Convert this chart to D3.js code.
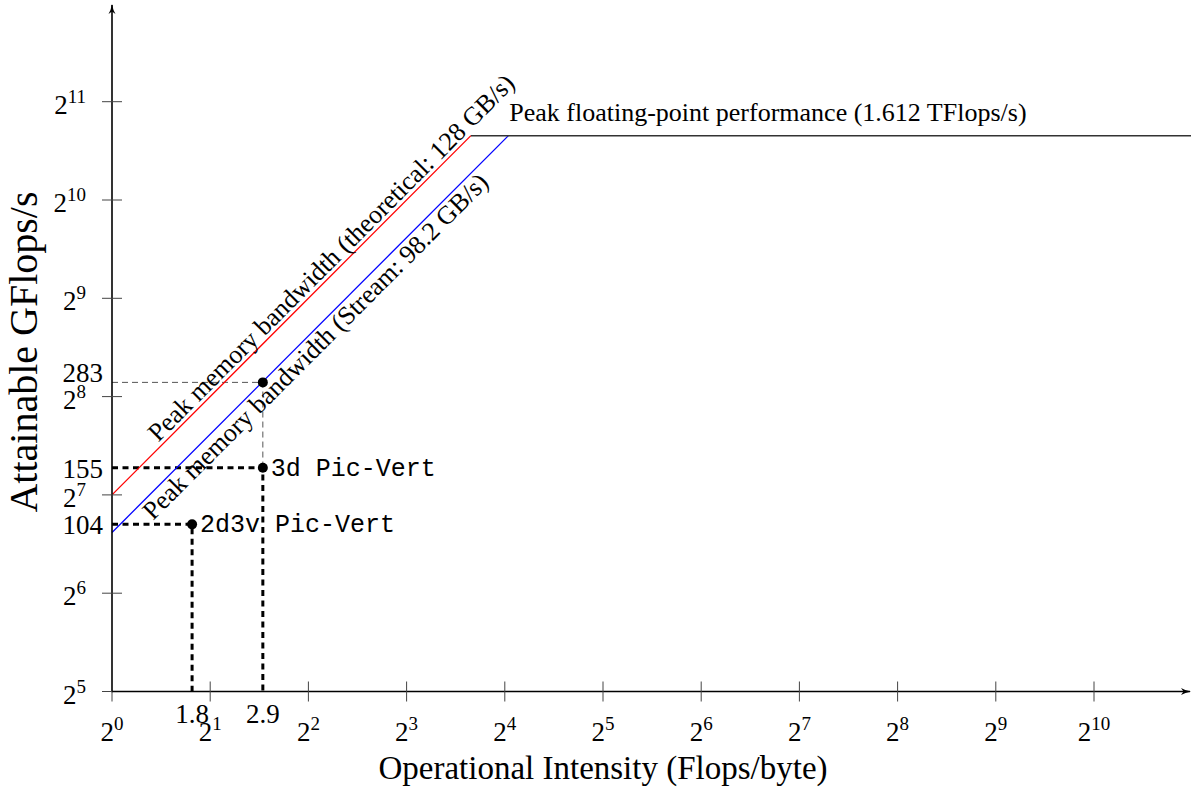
<!DOCTYPE html>
<html>
<head>
<meta charset="utf-8">
<script src="https://cdn.jsdelivr.net/npm/d3@7"></script>
<style>
  html, body { margin: 0; padding: 0; background: #fff; }
  svg { display: block; }
  text { font-family: "Liberation Serif", serif; fill: #000; }
  .mono { font-family: "Liberation Mono", "DejaVu Sans Mono", monospace; }
</style>
</head>
<body>
<svg id="chart" width="1191" height="789"></svg>
<script>
// ---------------- data ----------------
const xTickExponents = [0, 1, 2, 3, 4, 5, 6, 7, 8, 9, 10];
const yTickExponents = [5, 6, 7, 8, 9, 10, 11];
const peakPerformance = 1612;          // GFlops/s (1.612 TFlops/s)
const bandwidthNames = ["Peak memory bandwidth (theoretical: 128 GB/s)", "Peak memory bandwidth (Stream: 98.2 GB/s)"];
const bandwidthValues = [128, 98.2];   // GB/s
const bandwidthColors = ["#ff0000", "#0000ff"];
const peakLabel = "Peak floating-point performance (1.612 TFlops/s)";
const kernelNames = ["2d3v Pic-Vert", "3d Pic-Vert"];
const kernelIntensity = [1.76, 2.9];
const kernelPerformance = [104, 155];
const kernelIntensityLabels = ["1.8", "2.9"];
const kernelPerformanceLabels = ["104", "155"];
const boundIntensity = 2.9;
const boundPerformance = 283;
const boundLabel = "283";
const xTitle = "Operational Intensity (Flops/byte)";
const yTitle = "Attainable GFlops/s";

// ---------------- scales ----------------
const svg = d3.select("#chart");
const x = d3.scaleLog().base(2).domain([1, 2048]).range([112, 1192.2]);
const y = d3.scaleLog().base(2).domain([32, 4096]).range([691.5, 3.4]);
const x0 = x(1), y0 = y(32);
const xEnd = 1190, yEnd = 5;

// arrow marker
const defs = svg.append("defs");
defs.append("marker").attr("id", "arrow").attr("viewBox", "0 0 10 10")
  .attr("refX", 9).attr("refY", 5).attr("markerWidth", 10).attr("markerHeight", 10)
  .attr("markerUnits", "userSpaceOnUse").attr("orient", "auto")
  .append("path").attr("d", "M0,1.5 Q4,4 10,5 Q4,6 0,8.5 L2.5,5 Z").attr("fill", "#000");

// ---------------- dashed guide lines ----------------
const g = svg.append("g");
g.append("path")
  .attr("d", `M${x0},${y(boundPerformance)}H${x(boundIntensity)}V${y(kernelPerformance[1])}`)
  .attr("fill", "none").attr("stroke", "#555").attr("stroke-width", 1).attr("stroke-dasharray", "6,4");

kernelIntensity.forEach((ki, i) => {
  g.append("path")
    .attr("d", `M${x0},${y(kernelPerformance[i])}H${x(ki)}V${y0}`)
    .attr("fill", "none").attr("stroke", "#000").attr("stroke-width", 3).attr("stroke-dasharray", "6,4.5");
});

// ---------------- roofline ----------------
bandwidthValues.forEach((bw, i) => {
  const ridge = peakPerformance / bw;
  g.append("line")
    .attr("x1", x(1)).attr("y1", y(bw))
    .attr("x2", x(ridge)).attr("y2", y(peakPerformance))
    .attr("stroke", bandwidthColors[i]).attr("stroke-width", 1.3);
});
g.append("line")
  .attr("x1", x(peakPerformance / bandwidthValues[0])).attr("y1", y(peakPerformance))
  .attr("x2", x(2048)).attr("y2", y(peakPerformance))
  .attr("stroke", "#333").attr("stroke-width", 1.5);

// ---------------- axes ----------------
const ax = svg.append("g");
ax.append("line").attr("x1", x0).attr("y1", y0).attr("x2", xEnd).attr("y2", y0)
  .attr("stroke", "#000").attr("stroke-width", 1.6).attr("marker-end", "url(#arrow)");
ax.append("line").attr("x1", x0).attr("y1", y0 + 0.8).attr("x2", x0).attr("y2", yEnd)
  .attr("stroke", "#000").attr("stroke-width", 1.6).attr("marker-end", "url(#arrow)");

xTickExponents.forEach(e => {
  const px = x(Math.pow(2, e));
  ax.append("line").attr("x1", px).attr("x2", px)
    .attr("y1", e === 0 ? y0 : y0 - 10).attr("y2", y0 + 10)
    .attr("stroke", "#444").attr("stroke-width", 1);
  const t = ax.append("text").attr("x", px).attr("y", y0 + 49)
    .attr("text-anchor", "middle").style("font-size", "27px");
  t.append("tspan").text("2");
  t.append("tspan").attr("dy", -11).style("font-size", "19px").text(e);
});
yTickExponents.forEach(e => {
  const py = y(Math.pow(2, e));
  ax.append("line").attr("x1", x0 - 10).attr("x2", e === 5 ? x0 : x0 + 10)
    .attr("y1", py).attr("y2", py)
    .attr("stroke", "#444").attr("stroke-width", 1);
  const t = ax.append("text").attr("x", 86).attr("y", py + 12)
    .attr("text-anchor", "end").style("font-size", "27px");
  t.append("tspan").text("2");
  t.append("tspan").attr("dy", -11).style("font-size", "19px").text(e);
});

kernelIntensity.forEach((ki, i) => {
  ax.append("text").attr("x", x(ki)).attr("y", y0 + 31)
    .attr("text-anchor", "middle").style("font-size", "27px").text(kernelIntensityLabels[i]);
  ax.append("text").attr("x", 103).attr("y", y(kernelPerformance[i]) + 10)
    .attr("text-anchor", "end").style("font-size", "27px").text(kernelPerformanceLabels[i]);
});
ax.append("text").attr("x", 103).attr("y", y(boundPerformance))
  .attr("text-anchor", "end").style("font-size", "27px").text(boundLabel);

// ---------------- points ----------------
kernelIntensity.forEach((ki, i) => {
  svg.append("circle").attr("cx", x(ki)).attr("cy", y(kernelPerformance[i])).attr("r", 5).attr("fill", "#000");
  svg.append("text").attr("class", "mono").attr("x", x(ki) + 8).attr("y", y(kernelPerformance[i]) + 8)
    .style("font-size", "25px").text(kernelNames[i]);
});
svg.append("circle").attr("cx", x(boundIntensity)).attr("cy", y(boundPerformance)).attr("r", 5).attr("fill", "#000");

// ---------------- roofline labels ----------------
const labelAt = [5.0, 3.95];       // intensity at label anchor
const labelOffset = [-4, 21];      // perpendicular offset of baseline (negative = above)
bandwidthValues.forEach((bw, i) => {
  const I = labelAt[i];
  const px = x(I), py = y(bw * I);
  const ang = Math.atan2(y(bw * 2) - y(bw), x(2) - x(1)) * 180 / Math.PI;
  svg.append("text")
    .attr("transform", `translate(${px},${py}) rotate(${ang}) translate(0,${labelOffset[i]})`)
    .attr("text-anchor", "middle").style("font-size", "26px").text(bandwidthNames[i]);
});
svg.append("text").attr("x", x(16.4) + 1).attr("y", y(peakPerformance) - 15)
  .style("font-size", "26px").text(peakLabel);

// ---------------- titles ----------------
svg.append("text").attr("x", (x0 + x(1024)) / 2).attr("y", 779)
  .attr("text-anchor", "middle").style("font-size", "33px").text(xTitle);
svg.append("text").attr("transform", `translate(37,352) rotate(-90)`)
  .attr("text-anchor", "middle").style("font-size", "40px").text(yTitle);
</script>
</body>
</html>
